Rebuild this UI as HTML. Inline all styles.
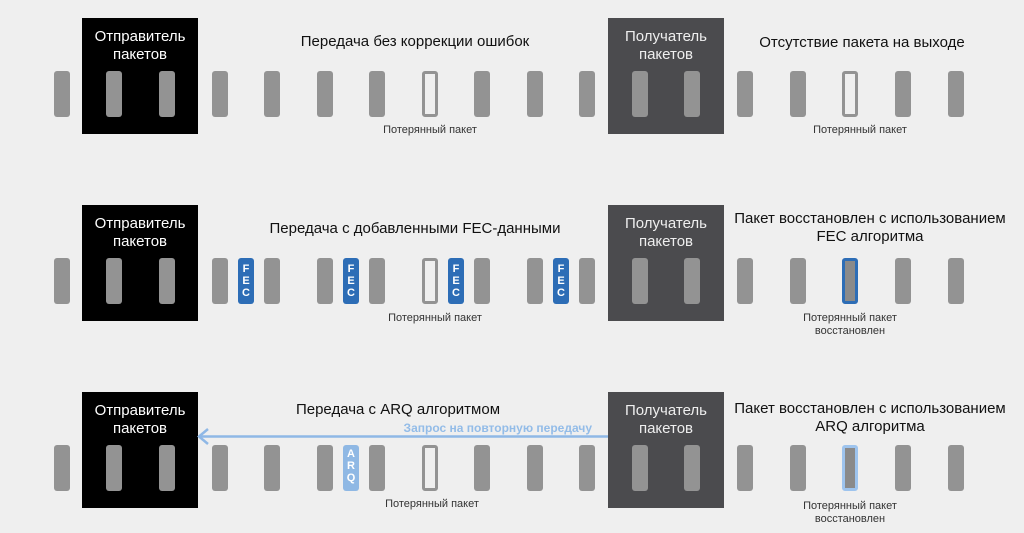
<!DOCTYPE html>
<html><head><meta charset="utf-8"><style>
body{margin:0;width:1024px;height:533px;background:#efefef;position:relative;overflow:hidden;font-family:"Liberation Sans","DejaVu Sans",sans-serif}
.a{position:absolute}
.box{position:absolute;width:116px;height:116px;color:#fff;font-size:15px;line-height:18px;text-align:center;box-sizing:border-box;padding-top:10px}
.s{background:#000;left:82px}
.r{background:#4b4b4e;left:608px;color:#eee}
.p{position:absolute;width:16px;height:46px;background:#939393;border-radius:3px}
.lost{background:#efefef;border:3px solid #939393;box-sizing:border-box}
.fec{background:#2d6db6;color:#fff;font-size:11px;font-weight:bold;text-align:center;line-height:12px;box-sizing:border-box;padding-top:5px}
.arq{background:#8fb8e4;color:#fff;font-size:11px;font-weight:bold;text-align:center;line-height:12px;box-sizing:border-box;padding-top:3px}
.rec{border:3px solid #2d6db6;box-sizing:border-box;background:#8a8a8a}
.rec2{border:3px solid #9ec4ee;box-sizing:border-box;background:#8a8a8a}
.t{position:absolute;font-size:15px;color:#111;text-align:center;white-space:nowrap;line-height:18px}
.l{position:absolute;font-size:11px;color:#333;text-align:center;white-space:nowrap;line-height:13px}
</style></head><body>
<div class="box s" style="top:18px">Отправитель<br>пакетов</div>
<div class="box r" style="top:18px">Получатель<br>пакетов</div>
<div class="box s" style="top:205px">Отправитель<br>пакетов</div>
<div class="box r" style="top:205px">Получатель<br>пакетов</div>
<div class="box s" style="top:392px">Отправитель<br>пакетов</div>
<div class="box r" style="top:392px">Получатель<br>пакетов</div>

<div class="t" style="left:300px;width:230px;top:33px">Передача без коррекции ошибок</div>
<div class="t" style="left:742px;width:240px;top:34px">Отсутствие пакета на выходе</div>
<div class="t" style="left:250px;width:330px;top:220px">Передача с добавленными FEC-данными</div>
<div class="t" style="left:720px;width:300px;top:210px">Пакет восстановлен с использованием<br>FEC алгоритма</div>
<div class="t" style="left:280px;width:236px;top:401px">Передача с ARQ алгоритмом</div>
<div class="t" style="left:720px;width:300px;top:400px">Пакет восстановлен с использованием<br>ARQ алгоритма</div>

<div class="l" style="left:360px;width:140px;top:124px">Потерянный пакет</div>
<div class="l" style="left:790px;width:140px;top:124px">Потерянный пакет</div>
<div class="l" style="left:365px;width:140px;top:312px">Потерянный пакет</div>
<div class="l" style="left:780px;width:140px;top:312px">Потерянный пакет<br>восстановлен</div>
<div class="l" style="left:362px;width:140px;top:498px">Потерянный пакет</div>
<div class="l" style="left:780px;width:140px;top:500px">Потерянный пакет<br>восстановлен</div>

<div class="a" style="left:360px;width:232px;top:421px;font-size:12px;font-weight:bold;color:#93bce8;text-align:right">Запрос на повторную передачу</div>
<svg class="a" style="left:195px;top:428px" width="420" height="18"><line x1="5" y1="8.5" x2="413" y2="8.5" stroke="#8fb8e6" stroke-width="2.5"/><polyline points="13,1 4,8.5 13,16" fill="none" stroke="#8fb8e6" stroke-width="2.5"/></svg>

<script>
function row(y,items){items.forEach(function(it){var d=document.createElement('div');d.className='p '+(it[1]||'');d.style.left=it[0]+'px';d.style.top=y+'px';if(it[2])d.innerHTML=it[2];document.body.appendChild(d);});}
var xs=[54,106,159,212,264,317,369,422,474,527,579,632,684,737,790,842,895,948];
row(71,xs.map(function(x){return [x,(x==422||x==842)?'lost':''];}));
row(258,xs.map(function(x){return [x,x==422?'lost':(x==842?'rec':'')];}).concat([[238,'fec','F<br>E<br>C'],[343,'fec','F<br>E<br>C'],[448,'fec','F<br>E<br>C'],[553,'fec','F<br>E<br>C']]));
row(445,xs.map(function(x){return [x,x==422?'lost':(x==842?'rec2':'')];}).concat([[343,'arq','A<br>R<br>Q']]));
</script>
</body></html>
